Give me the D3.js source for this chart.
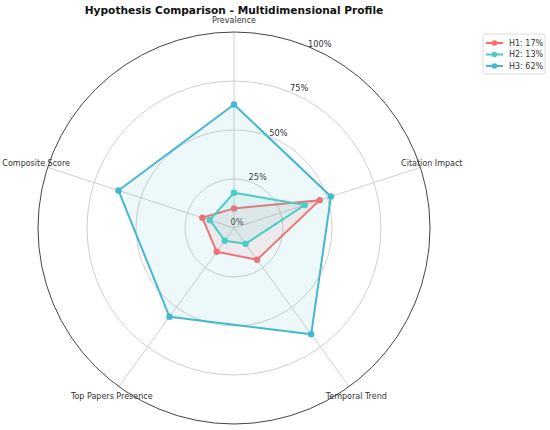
<!DOCTYPE html>
<html>
<head>
<meta charset="utf-8">
<script src="https://cdn.jsdelivr.net/npm/d3@7"></script>
<style>
  body { margin: 0; background: #fff; }
  text { font-family: "DejaVu Sans", sans-serif; }
</style>
</head>
<body>
<svg id="chart" width="550" height="430"></svg>
<script>
// data
var axes = ["Prevalence", "Citation Impact", "Temporal Trend", "Top Papers Presence", "Composite Score"];
var seriesNames = ["H1: 17%", "H2: 13%", "H3: 62%"];
var h1 = [10, 46, 20, 15, 17];
var h2 = [18, 38, 10, 8, 13];
var h3 = [63, 52, 67, 56, 62];
var ticks = [0, 25, 50, 75, 100];
var colors = ["#FF6B6B", "#4ECDC4", "#45B7D1"];

var width = 550, height = 430;
var cx = 234, cy = 228, R = 196;

var svg = d3.select("#chart");
var r = d3.scaleLinear().domain([0, 100]).range([0, R]);
var angle = d3.scaleLinear().domain([0, axes.length]).range([0, 2 * Math.PI]);

var g = svg.append("g").attr("transform", "translate(" + cx + "," + cy + ")");

function px(a, rad){ return rad * Math.sin(a); }
function py(a, rad){ return -rad * Math.cos(a); }

// grid circles
g.selectAll("circle.grid").data(ticks.filter(function(t){ return t > 0 && t < 100; }))
  .enter().append("circle")
  .attr("class", "grid")
  .attr("r", function(d){ return r(d); })
  .attr("fill", "none")
  .attr("stroke", "#cfcfcf")
  .attr("stroke-width", 1);

// spokes
g.selectAll("line.spoke").data(axes).enter().append("line")
  .attr("x1", 0).attr("y1", 0)
  .attr("x2", function(d, i){ return px(angle(i), R); })
  .attr("y2", function(d, i){ return py(angle(i), R); })
  .attr("stroke", "#cfcfcf")
  .attr("stroke-width", 1);

// outer frame
g.append("circle").attr("r", r(100))
  .attr("fill", "none").attr("stroke", "#444").attr("stroke-width", 1);

// radial tick labels
var labAng = 25 * Math.PI / 180;
g.selectAll("text.rtick").data(ticks).enter().append("text")
  .attr("x", function(d){ return px(labAng, r(d) + 7); })
  .attr("y", function(d){ return py(labAng, r(d) + 7); })
  .attr("text-anchor", "middle")
  .attr("dominant-baseline", "central")
  .attr("font-size", 8.2)
  .attr("fill", "#333")
  .text(function(d){ return d + "%"; });

// series
var all = [h1, h2, h3];
var radial = d3.lineRadial()
  .angle(function(d, i){ return angle(i); })
  .radius(function(d){ return r(d); })
  .curve(d3.curveLinearClosed);

all.forEach(function(vals, k){
  var s = g.append("g");
  s.append("path").attr("d", radial(vals))
    .attr("fill", colors[k]).attr("fill-opacity", 0.1)
    .attr("stroke", colors[k]).attr("stroke-width", 2)
    .attr("stroke-linejoin", "round");
  s.selectAll("circle").data(vals).enter().append("circle")
    .attr("cx", function(d, i){ return px(angle(i), r(d)); })
    .attr("cy", function(d, i){ return py(angle(i), r(d)); })
    .attr("r", 3.2)
    .attr("fill", colors[k]);
});

// axis labels
g.selectAll("text.axis").data(axes).enter().append("text")
  .attr("x", function(d, i){ return px(angle(i), R + 12); })
  .attr("y", function(d, i){ return py(angle(i), R + 12); })
  .attr("text-anchor", "middle")
  .attr("dominant-baseline", "central")
  .attr("font-size", 8)
  .attr("fill", "#333")
  .text(function(d){ return d; });

// title
svg.append("text")
  .attr("x", cx).attr("y", 9.5)
  .attr("text-anchor", "middle")
  .attr("dominant-baseline", "central")
  .attr("font-size", 10.6)
  .attr("font-weight", "bold")
  .attr("fill", "#111")
  .text("Hypothesis Comparison - Multidimensional Profile");

// legend
var leg = svg.append("g").attr("transform", "translate(483,34)");
leg.append("rect").attr("width", 62).attr("height", 40).attr("rx", 2)
  .attr("fill", "#fff").attr("stroke", "#ddd");
seriesNames.forEach(function(name, k){
  var y = 9 + k * 11.5;
  leg.append("line").attr("x1", 3).attr("x2", 20).attr("y1", y).attr("y2", y)
    .attr("stroke", colors[k]).attr("stroke-width", 2);
  leg.append("circle").attr("cx", 11.5).attr("cy", y).attr("r", 2.8).attr("fill", colors[k]);
  leg.append("text").attr("x", 26).attr("y", y)
    .attr("dominant-baseline", "central")
    .attr("font-size", 8).attr("fill", "#333")
    .text(name);
});
</script>
</body>
</html>
